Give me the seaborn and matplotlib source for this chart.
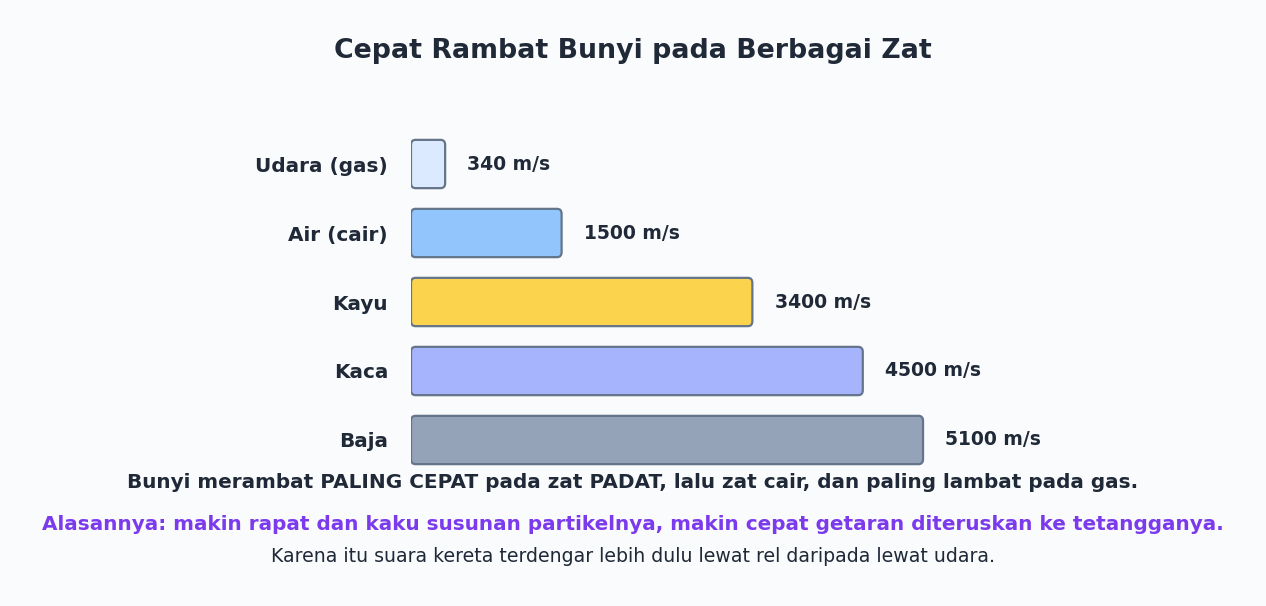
import matplotlib
matplotlib.use("Agg")
import matplotlib.pyplot as plt
from matplotlib.patches import FancyBboxPatch
import seaborn as sns
import pandas as pd

# Data
zat = ["Udara (gas)", "Air (cair)", "Kayu", "Kaca", "Baja"]
kecepatan = [340, 1500, 3400, 4500, 5100]
warna = ["#dbeafe", "#93c5fd", "#fcd34d", "#a5b4fc", "#94a3b8"]
label_nilai = [f"{v} m/s" for v in kecepatan]

judul = "Cepat Rambat Bunyi pada Berbagai Zat"
catatan_1 = "Bunyi merambat PALING CEPAT pada zat PADAT, lalu zat cair, dan paling lambat pada gas."
catatan_2 = "Alasannya: makin rapat dan kaku susunan partikelnya, makin cepat getaran diteruskan ke tetangganya."
catatan_3 = "Karena itu suara kereta terdengar lebih dulu lewat rel daripada lewat udara."

bg = "#fafbfc"
teks = "#1f2937"
tepi = "#64748b"

sns.set_theme(style="white")
plt.rcParams["font.family"] = ["DejaVu Sans"]

df = pd.DataFrame({"zat": zat, "v": kecepatan})

fig = plt.figure(figsize=(12.66, 6.06), dpi=100, facecolor=bg)
ax = fig.add_axes([411 / 1266, 0.217, 753 / 1266, 0.5693])
ax.set_facecolor(bg)

sns.barplot(data=df, x="v", y="zat", hue="zat", palette=warna, orient="h",
            width=0.7, legend=False, ax=ax)

# swap plain bars for rounded ones using the bar geometry from seaborn
bars = list(ax.patches)
for i, (bar, c) in enumerate(zip(bars, warna)):
    x, y, w, h = bar.get_x(), bar.get_y(), bar.get_width(), bar.get_height()
    bar.remove()
    rb = FancyBboxPatch((x, y), w, h,
                        boxstyle="round,pad=0,rounding_size=45",
                        mutation_aspect=0.0016,
                        facecolor=c, edgecolor=tepi, linewidth=1.6, zorder=2)
    ax.add_patch(rb)
    ax.annotate(label_nilai[i], xy=(x + w, y + h / 2),
                xytext=(16, 0), textcoords="offset points",
                ha="left", va="center", fontsize=13.5, fontweight="bold",
                color=teks)

ax.set_xlim(0, 7500)
ax.set_ylim(4.5, -0.5)
ax.set_xlabel("")
ax.set_ylabel("")
ax.set_xticks([])
ax.tick_params(axis="y", length=0, pad=16.5)
for lbl in ax.get_yticklabels():
    lbl.set_fontweight("bold")
    lbl.set_fontsize(14.4)
    lbl.set_color(teks)
sns.despine(ax=ax, left=True, bottom=True)

fig.text(0.5, 1 - 51 / 606, judul, ha="center", va="center",
         fontsize=19.3, fontweight="bold", color=teks)
fig.text(0.5, 1 - 482 / 606, catatan_1, ha="center", va="center",
         fontsize=14.4, fontweight="bold", color=teks)
fig.text(0.5, 1 - 524 / 606, catatan_2, ha="center", va="center",
         fontsize=14.4, fontweight="bold", color="#7c3aed")
fig.text(0.5, 1 - 556 / 606, catatan_3, ha="center", va="center",
         fontsize=13.6, color=teks)

fig.savefig("out.png", dpi=100, facecolor=bg)
